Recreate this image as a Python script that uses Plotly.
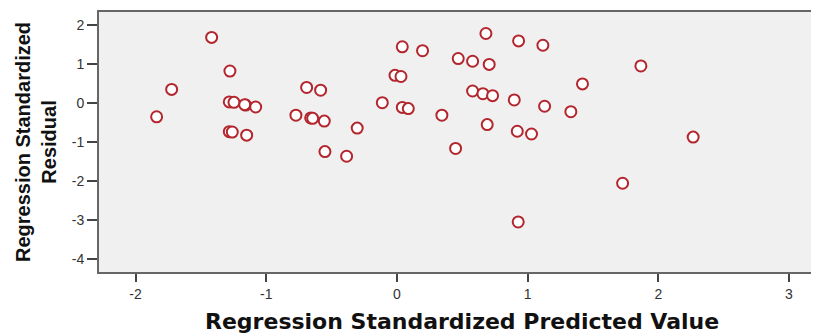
import plotly.graph_objects as go

predicted = [-1.418, -1.278, -1.724, -1.839, -1.283, -1.247, -1.158, -1.165, -1.081, -1.283, -1.26, -1.15,
             -0.773, -0.691, -0.584, -0.66, -0.645, -0.556, -0.551, -0.385, -0.304, -0.112,
             0.041, 0.196, -0.015, 0.031, 0.041, 0.087, 0.344, 0.449, 0.469, 0.579, 0.706, 0.681,
             0.931, 1.117, 0.579, 0.658, 0.732, 0.898, 0.691, 1.13, 0.921, 1.03, 1.331, 1.42,
             0.928, 1.867, 2.267, 1.727]
residual = [1.68, 0.82, 0.35, -0.35, 0.03, 0.02, -0.05, -0.04, -0.10, -0.73, -0.74, -0.82,
            -0.31, 0.40, 0.33, -0.38, -0.39, -0.46, -1.24, -1.36, -0.64, 0.01,
            1.44, 1.34, 0.71, 0.68, -0.11, -0.14, -0.31, -1.16, 1.14, 1.07, 0.99, 1.78,
            1.59, 1.48, 0.31, 0.24, 0.19, 0.08, -0.55, -0.08, -0.72, -0.79, -0.22, 0.49,
            -3.04, 0.95, -0.87, -2.05]

x_ticks = [-2, -1, 0, 1, 2, 3]
x_labels = ["-2", "-1", "0", "1", "2", "3"]
y_ticks = [2, 1, 0, -1, -2, -3, -4]
y_labels = ["2", "1", "0", "-1", "-2", "-3", "-4"]
x_title = "Regression Standardized Predicted Value"
y_title = "Regression Standardized<br>Residual"

fig = go.Figure(go.Scatter(
    x=predicted, y=residual, mode="markers",
    marker=dict(symbol="circle", size=11, color="white",
                line=dict(color="#b3262e", width=2)),
))

# page body has an 8px margin: figure is offset by (8, 8) in the window
fig.update_layout(
    width=811, height=326,
    margin=dict(l=91, r=0, t=4, b=62),
    paper_bgcolor="white", plot_bgcolor="#f0f0f0",
    showlegend=False,
    font=dict(family="Liberation Sans, Arial", color="#222"),
)
fig.update_xaxes(
    range=[-2.28, 3.23], tickvals=x_ticks, ticktext=x_labels, showgrid=False, zeroline=False,
    showline=True, linecolor="#666", linewidth=2, mirror=True, automargin=False,
    ticks="outside", ticklen=8, tickwidth=2, tickcolor="#444",
    tickfont=dict(size=14, color="#333"),
)
fig.update_yaxes(
    range=[-4.32, 2.33], tickvals=y_ticks, ticktext=y_labels, showgrid=False, zeroline=False,
    showline=True, linecolor="#666", linewidth=2, automargin=False,
    ticks="outside", ticklen=10, tickwidth=2, tickcolor="#444",
    tickfont=dict(size=14, color="#333"),
)
fig.add_annotation(
    text=x_title, xref="paper", yref="paper", x=(462 - 99) / 720, y=-(321 - 272) / 260,
    xanchor="center", yanchor="middle", showarrow=False,
    font=dict(family="DejaVu Sans", size=22, color="#111", weight="bold"),
)
fig.add_annotation(
    text=y_title, xref="paper", yref="paper", x=-(99 - 36) / 720, y=0.5,
    xanchor="center", yanchor="middle", showarrow=False, textangle=-90,
    font=dict(family="Liberation Sans, Arial", size=20, color="#111", weight="bold"),
)

fig.write_html("out.html")
